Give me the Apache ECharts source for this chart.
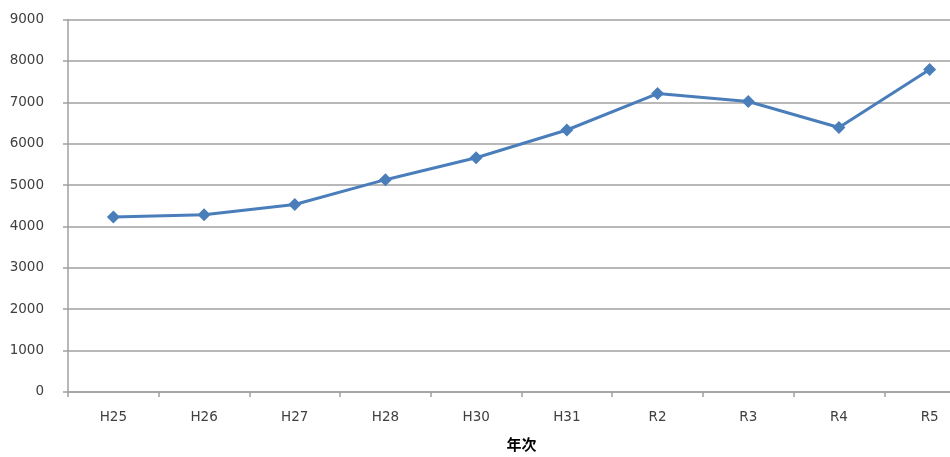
<!DOCTYPE html>
<html>
<head>
<meta charset="utf-8">
<script src="https://cdn.jsdelivr.net/npm/echarts@6/dist/echarts.min.js"></script>
<style>
  html, body { margin: 0; padding: 0; background: #fff; overflow: hidden; }
  #main { width: 980px; height: 457px; }
</style>
</head>
<body>
<div id="main"></div>
<script>
var categories = ['H25', 'H26', 'H27', 'H28', 'H30', 'H31', 'R2', 'R3', 'R4', 'R5'];
var values = [4230, 4280, 4530, 5130, 5660, 6330, 7210, 7020, 6390, 7790];

// plot area runs past the right edge of the 950px window, as in the source
var chart = echarts.init(document.getElementById('main'));
chart.setOption({
  animation: false,
  grid: { left: 68, top: 19.5, bottom: 65, right: 5 },
  xAxis: {
    type: 'category',
    data: categories,
    name: '年次',
    nameLocation: 'middle',
    nameGap: 45,
    nameTextStyle: { fontSize: 15, fontWeight: 'bold', color: '#000', fontFamily: 'Noto Sans CJK JP' },
    axisLine: { lineStyle: { color: '#a0a0a0', width: 1.5 } },
    axisTick: { show: true, length: 5, lineStyle: { color: '#a0a0a0', width: 1.5 } },
    axisLabel: { margin: 19, fontSize: 13.5, color: '#404040', fontFamily: 'DejaVu Sans' }
  },
  yAxis: {
    type: 'value',
    min: 0,
    max: 9000,
    interval: 1000,
    axisLine: { show: true, lineStyle: { color: '#a0a0a0', width: 1.5 } },
    axisTick: { show: true, length: 5, lineStyle: { color: '#a0a0a0', width: 1.5 } },
    splitLine: { lineStyle: { color: '#a0a0a0', width: 1.5 } },
    axisLabel: {
      margin: 24, fontSize: 13.5, color: '#404040', fontFamily: 'DejaVu Sans',
      formatter: function (v) { return String(v); }
    }
  },
  series: [{
    type: 'line',
    data: values,
    symbol: 'diamond',
    symbolSize: 13,
    lineStyle: { color: '#4a7ebb', width: 3 },
    itemStyle: { color: '#4a7ebb' }
  }]
});
</script>
</body>
</html>
